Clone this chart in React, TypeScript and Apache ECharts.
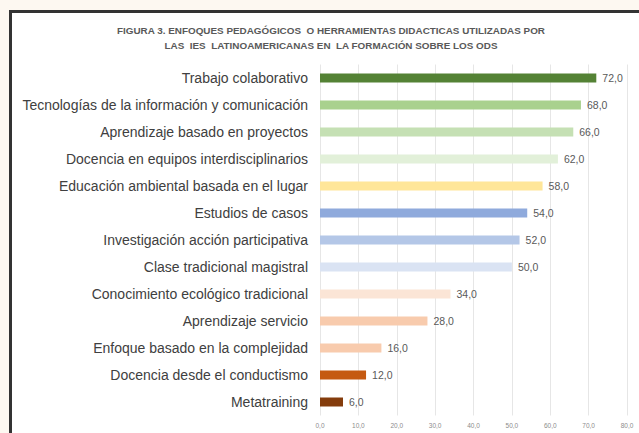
import React, { useEffect, useRef } from "react";
import * as echarts from "echarts";

const categories = [
  "Trabajo colaborativo",
  "Tecnologías de la información y comunicación",
  "Aprendizaje basado en proyectos",
  "Docencia en equipos interdisciplinarios",
  "Educación ambiental basada en el lugar",
  "Estudios de casos",
  "Investigación acción participativa",
  "Clase tradicional magistral",
  "Conocimiento ecológico tradicional",
  "Aprendizaje servicio",
  "Enfoque basado en la complejidad",
  "Docencia desde el conductismo",
  "Metatraining",
];
const values = [72, 68, 66, 62, 58, 54, 52, 50, 34, 28, 16, 12, 6];
const barColors = [
  "#548235", "#a9d18e", "#c5e0b4", "#e2f0d9", "#ffe699",
  "#8faadc", "#b4c7e7", "#dae3f3", "#fbe5d6", "#f8cbad",
  "#f8cbad", "#c55a11", "#843c0c",
];
const titleLines = [
  "FIGURA 3. ENFOQUES PEDAGÓGICOS  O HERRAMIENTAS DIDACTICAS UTILIZADAS POR",
  "LAS  IES  LATINOAMERICANAS EN  LA FORMACIÓN SOBRE LOS ODS",
];

const fmt = (v: number) => v.toFixed(1).replace(".", ",");

export default function App() {
  const ref = useRef<HTMLDivElement>(null);
  useEffect(() => {
    if (!ref.current) return;
    const chart = echarts.init(ref.current, undefined, { renderer: "svg" });
    chart.setOption({
      animation: false,
      backgroundColor: "#fdf8f1",
      graphic: [
        {
          type: "rect",
          z: -10,
          shape: { x: 10.5, y: 11.5, width: 640, height: 430 },
          style: { fill: "#ffffff", stroke: "#333333", lineWidth: 3 },
        },
        ...titleLines.map((t, i) => ({
          type: "text",
          x: 331,
          y: 30 + i * 15,
          style: {
            text: t,
            align: "center",
            verticalAlign: "middle",
            fill: "#595959",
            font: "bold 9.9px 'Liberation Sans', sans-serif",
          },
        })),
      ],
      grid: { left: 320, right: 12, top: 64.5, bottom: 17.5, containLabel: false },
      xAxis: {
        type: "value",
        min: 0,
        max: 80,
        interval: 10,
        axisLine: { show: false },
        axisTick: { show: false },
        splitLine: { show: true, lineStyle: { color: "#e6e6e6", width: 1 } },
        axisLabel: {
          formatter: (v: number) => fmt(v),
          color: "#8c8c8c",
          fontSize: 6.5,
          fontFamily: "'Liberation Sans', sans-serif",
          margin: 6,
        },
      },
      yAxis: {
        type: "category",
        inverse: true,
        data: categories,
        axisLine: { show: false },
        axisTick: { show: false },
        axisLabel: {
          color: "#404040",
          fontSize: 14,
          fontFamily: "'Liberation Sans', sans-serif",
          margin: 12,
        },
      },
      series: [
        {
          type: "bar",
          barWidth: 9,
          data: values.map((v, i) => ({
            value: v,
            itemStyle: { color: barColors[i] },
          })),
          label: {
            show: true,
            position: "right",
            distance: 6,
            color: "#595959",
            fontSize: 10.5,
            fontFamily: "'Liberation Sans', sans-serif",
            formatter: (p: any) => fmt(p.value),
          },
        },
      ],
    });
    return () => chart.dispose();
  }, []);
  return (
    <div
      ref={ref}
      style={{ position: "fixed", left: 0, top: 0, width: 639, height: 433 }}
    />
  );
}
